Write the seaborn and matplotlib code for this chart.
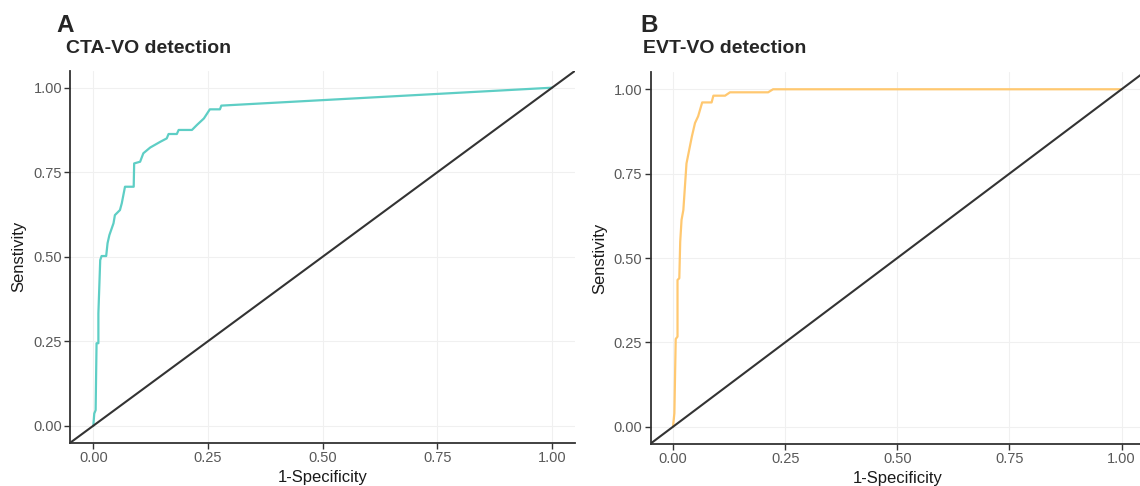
import matplotlib
matplotlib.use('Agg')
import matplotlib.pyplot as plt
import seaborn as sns
import pandas as pd

# ROC points (1-specificity, sensitivity)
cta_fpr = [0.0, 0.002, 0.005, 0.007, 0.011, 0.011, 0.015, 0.018, 0.028, 0.031, 0.035, 0.044,
           0.047, 0.058, 0.062, 0.069, 0.088, 0.089, 0.102, 0.109, 0.124, 0.146, 0.160, 0.164,
           0.182, 0.186, 0.215, 0.226, 0.241, 0.254, 0.276, 0.279, 1.0]
cta_tpr = [0.0, 0.036, 0.046, 0.244, 0.244, 0.332, 0.49, 0.502, 0.502, 0.54, 0.564, 0.599,
           0.623, 0.638, 0.658, 0.707, 0.707, 0.776, 0.781, 0.806, 0.823, 0.84, 0.85, 0.863,
           0.863, 0.875, 0.875, 0.89, 0.909, 0.936, 0.936, 0.947, 1.0]

evt_fpr = [0.0, 0.003, 0.006, 0.010, 0.010, 0.014, 0.016, 0.019, 0.023, 0.027, 0.030, 0.036,
           0.042, 0.049, 0.056, 0.065, 0.086, 0.090, 0.116, 0.127, 0.212, 0.223, 1.0]
evt_tpr = [0.0, 0.04, 0.26, 0.267, 0.435, 0.44, 0.548, 0.613, 0.642, 0.721, 0.78, 0.82,
           0.86, 0.90, 0.92, 0.961, 0.961, 0.981, 0.981, 0.991, 0.991, 1.0, 1.0]

ticks = [0.0, 0.25, 0.5, 0.75, 1.0]
tick_labels = ['0.00', '0.25', '0.50', '0.75', '1.00']

sns.set_theme(style='white')
plt.rcParams['font.family'] = ['Liberation Sans', 'DejaVu Sans']

W, H = 1140, 486
fig = plt.figure(figsize=(W / 100, H / 100), dpi=100)


def add_ax(left, top, right, bottom):
    return fig.add_axes([left / W, 1 - bottom / H, (right - left) / W, (bottom - top) / H])


def roc_panel(ax, fpr, tpr, color, tag, title, tag_xy, title_xy):
    df = pd.DataFrame({'fpr': fpr, 'tpr': tpr})
    sns.lineplot(data=df, x='fpr', y='tpr', ax=ax, color=color, linewidth=1.6,
                 sort=False, estimator=None)
    ax.axline((0, 0), (1, 1), color='#333333', linewidth=1.5)
    ax.set_xlim(-0.05, 1.05)
    ax.set_ylim(-0.05, 1.05)
    ax.set_xticks(ticks)
    ax.set_yticks(ticks)
    ax.set_xticklabels(tick_labels)
    ax.set_yticklabels(tick_labels)
    ax.grid(True, color='#F0F0F0', linewidth=0.8)
    ax.set_axisbelow(True)
    for s in ['top', 'right']:
        ax.spines[s].set_visible(False)
    for s in ['left', 'bottom']:
        ax.spines[s].set_color('#333333')
        ax.spines[s].set_linewidth(1.3)
    ax.tick_params(bottom=True, left=True, length=4, width=1, color='#333333',
                   labelcolor='#595959', labelsize=10.5, pad=2)
    ax.set_xlabel('1-Specificity', fontsize=12, color='#1A1A1A')
    ax.set_ylabel('Senstivity', fontsize=12, color='#1A1A1A')
    ax.xaxis.set_label_coords(0.5, -0.075)
    ax.xaxis.label.set_va('top')
    ax.yaxis.set_label_coords(-0.102, 0.5)
    ax.yaxis.label.set_va('center')
    fig.text(tag_xy[0] / W, 1 - tag_xy[1] / H, tag, fontsize=17.5, fontweight='bold',
             va='baseline', ha='left')
    fig.text(title_xy[0] / W, 1 - title_xy[1] / H, title, fontsize=14, fontweight='bold',
             va='baseline', ha='left')


ax_a = add_ax(70.4, 70.8, 575, 442.6)
ax_b = add_ax(650.6, 72.4, 1144, 443.6)

roc_panel(ax_a, cta_fpr, cta_tpr, '#5ECEC5', 'A', 'CTA-VO detection', (56, 31.7), (66, 53))
roc_panel(ax_b, evt_fpr, evt_tpr, '#FFC870', 'B', 'EVT-VO detection', (640, 31.7), (643, 53))

fig.savefig('out.png', dpi=100)
